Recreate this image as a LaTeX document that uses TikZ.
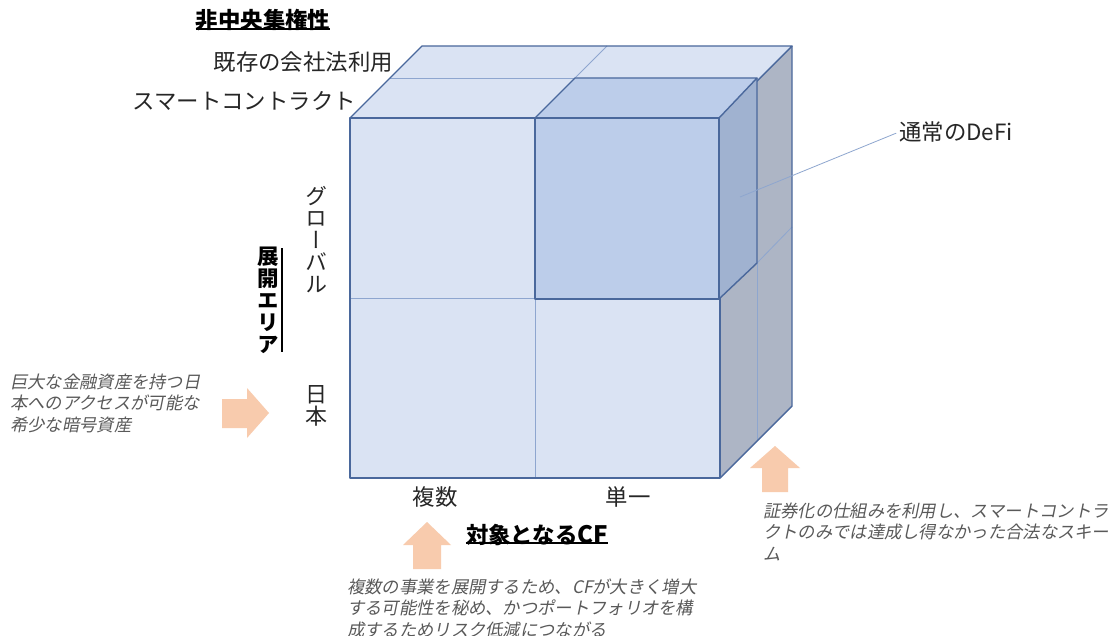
\documentclass[tikz,border=0pt]{standalone}
\usepackage{fontspec}
\usepackage{graphicx}
\newfontfamily\jp{Noto Sans CJK JP}
\newfontfamily\jpv[RawFeature=+vert]{Noto Sans CJK JP}
\newfontfamily\jpit[FakeSlant=0.2]{Noto Sans CJK JP}
\definecolor{frontc}{HTML}{DAE3F3}
\definecolor{subc}{HTML}{BCCDEA}
\definecolor{subr}{HTML}{A0B2D0}
\definecolor{bigr}{HTML}{ADB5C5}
\definecolor{edgec}{HTML}{4A689C}
\definecolor{gridc}{HTML}{8EA6CF}
\definecolor{arrowc}{HTML}{F8CBAD}
\definecolor{txtgray}{HTML}{595959}
\definecolor{txtmain}{HTML}{262626}
\begin{document}
\begin{tikzpicture}[x=1pt,y=-1pt,
  face/.style={draw=edgec, line width=1.4pt, line join=round},
  gridline/.style={draw=gridc, line width=0.8pt},
  lbl/.style={font=\jp\fontsize{22.4}{22}\selectfont, inner sep=0pt, text=txtmain},
  vlbl/.style={font=\jpv\fontsize{22}{22}\selectfont, inner sep=0pt, text=txtmain, align=center},
  head/.style={font=\jp\bfseries\fontsize{22.4}{22}\selectfont, inner sep=0pt, text=black},
  vhead/.style={font=\jpv\bfseries\fontsize{21.5}{22}\selectfont, inner sep=0pt, text=black, align=center},
  note/.style={font=\jpit\fontsize{17.3}{21.5}\selectfont, text=txtgray, align=left, inner sep=0pt},
  blockarrow/.style={fill=arrowc, draw=none},
  callout/.style={draw=gridc, line width=0.8pt}]
\useasboundingbox[fill=white] (0,0) rectangle (1115,636);

% big cube corners
\coordinate (A) at (350,118);
\coordinate (B) at (720,118);
\coordinate (C) at (720,478);
\coordinate (E) at (350,478);
\coordinate (At) at (422,46);
\coordinate (Bt) at (792,46);
\coordinate (Ct) at (792,406);

\fill[frontc] (A) -- (B) -- (C) -- (E) -- cycle;
\fill[frontc] (A) -- (At) -- (Bt) -- (B) -- cycle;
\fill[bigr] (B) -- (Bt) -- (Ct) -- (C) -- cycle;

% grid lines
\draw[gridline] (350,298) -- (535,298);
\draw[gridline] (535,298) -- (535,478);
\draw[gridline] (390,78) -- (575,78);
\draw[gridline] (575,78) -- (607,46);
\draw[gridline] (757,263) -- (792,227);
\draw[gridline] (757,263) -- (757,441);

% big cube edges
\draw[face] (A) -- (B) -- (C) -- (E) -- cycle;
\draw[face] (A) -- (At) -- (Bt) -- (B);
\draw[face] (Bt) -- (Ct) -- (C);

% sub cube
\coordinate (P) at (535,118);
\coordinate (Q) at (719,118);
\coordinate (R) at (719,299);
\coordinate (S) at (535,299);
\coordinate (Pt) at (575,78);
\coordinate (Qt) at (757,78);
\coordinate (Rt) at (757,263);
\fill[subc] (P) -- (Q) -- (R) -- (S) -- cycle;
\fill[subc] (P) -- (Pt) -- (Qt) -- (Q) -- cycle;
\fill[subr] (Q) -- (Qt) -- (Rt) -- (R) -- cycle;
\draw[face] (P) -- (Q) -- (R) -- (S) -- cycle;
\draw[face] (P) -- (Pt) -- (Qt) -- (Q);
\draw[face] (Qt) -- (Rt) -- (R);

% block arrows
\fill[blockarrow] (222,399) -- (247,399) -- (247,388) -- (269,413) -- (247,438) -- (247,428) -- (222,428) -- cycle;
\fill[blockarrow] (413,569) -- (413,545) -- (403,545) -- (427,522) -- (451,545) -- (441,545) -- (441,569) -- cycle;
\fill[blockarrow] (762,492) -- (762,468) -- (750,468) -- (775,446) -- (800,468) -- (788,468) -- (788,492) -- cycle;

% headings
\node[head] (h1) at (263,20) {非中央集権性};
\draw[line width=1.1pt] ([yshift=2pt]h1.south west) -- ([yshift=2pt]h1.south east);
\node[head] (h2) at (537,535) {対象となる\fontsize{24}{22}\selectfont CF};
\draw[line width=1.1pt] ([yshift=3pt]h2.south west) -- ([yshift=3pt]h2.south east);
\node[vhead] (h3) at (268,300) {展\\開\\エ\\リ\\ア};
\coordinate (h3a) at ([xshift=3pt,yshift=-2pt]h3.north east);
\coordinate (h3b) at ([xshift=3pt,yshift=2pt]h3.south east);
\draw[line width=1.1pt] (h3a) -- (h3b);

% axis labels
\node[lbl, anchor=east] (z1) at (393,62) {既存の会社法利用};
\node[lbl, anchor=east] (z2) at (356,101) {スマートコントラクト};
\node[vlbl] (y1) at (316,240) {グ\\ロ\\ー\\バ\\ル};
\node[vlbl] (y2) at (316,406) {日\\本};
\node[lbl] (x1) at (435,497) {複数};
\node[lbl] (x2) at (628,497) {単一};

% callout
\coordinate (defipt) at (740,197);
\node[lbl, anchor=west] (defi) at (899,132) {通常のDeFi};
\draw[callout, shorten >=3pt] (defipt) -- (defi.west);

% notes
\node[note, anchor=west] (n1) at (10,403) {巨大な金融資産を持つ日\\本へのアクセスが可能な\\希少な暗号資産};
\node[note, anchor=west] (n2) at (347,608) {複数の事業を展開するため、CFが大きく増大\\する可能性を秘め、かつポートフォリオを構\\成するためリスク低減につながる};
\node[note, anchor=west] (n3) at (763,532) {証券化の仕組みを利用し、スマートコントラ\\クトのみでは達成し得なかった合法なスキー\\ム};
\end{tikzpicture}
\end{document}
